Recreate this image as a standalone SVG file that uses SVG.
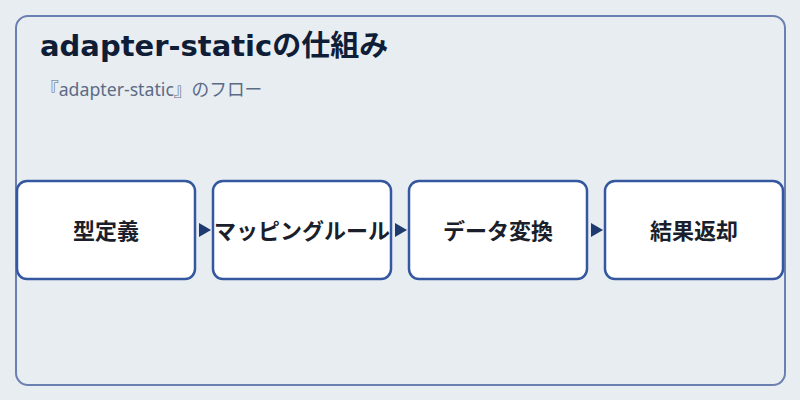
<svg xmlns="http://www.w3.org/2000/svg" width="800" height="400" viewBox="0 0 800 400">
<defs>
<style>
.frame{fill:#e8edf2;stroke:#6b80b0;stroke-width:2}
.node rect{fill:#ffffff;stroke:#3557a0;stroke-width:2.5}
.node text{font-family:"DejaVu Sans","Noto Sans CJK JP",sans-serif;font-size:22px;font-weight:bold;fill:#1a1f2b;text-anchor:middle;dominant-baseline:central}
.title{font-family:"DejaVu Sans","Noto Sans CJK JP",sans-serif;font-size:29px;font-weight:bold;fill:#0f1e36}
.sub{font-family:"Noto Sans","Noto Sans CJK JP",sans-serif;font-size:17.7px;fill:#5b6b85}
.edge{stroke:#1e3a6e;stroke-width:0.1;fill:none}
</style>
<marker id="tri" viewBox="0 0 12 14" refX="12" refY="7" markerWidth="12" markerHeight="14" markerUnits="userSpaceOnUse" orient="auto">
<path d="M0,0 L12,7 L0,14 z" fill="#1e3a6e"/>
</marker>
</defs>
<rect width="800" height="400" fill="#e8edf2"/>
<rect class="frame" x="16" y="16" width="769" height="369" rx="12"/>
<text class="title" x="40" y="56">adapter-staticの仕組み</text>
<text class="sub" x="41" y="96">『adapter-static』のフロー</text>
<g id="connectors">
<line class="edge" x1="198" y1="230" x2="211" y2="230" marker-end="url(#tri)"/>
<line class="edge" x1="394" y1="230" x2="407" y2="230" marker-end="url(#tri)"/>
<line class="edge" x1="590" y1="230" x2="603" y2="230" marker-end="url(#tri)"/>
</g>
<g id="node1" class="node"><rect x="17" y="181" width="178" height="98" rx="10"/><text x="106" y="231">型定義</text></g>
<g id="node2" class="node"><rect x="213" y="181" width="178" height="98" rx="10"/><text x="302" y="231">マッピングルール</text></g>
<g id="node3" class="node"><rect x="409" y="181" width="178" height="98" rx="10"/><text x="498" y="231">データ変換</text></g>
<g id="node4" class="node"><rect x="605" y="181" width="178" height="98" rx="10"/><text x="694" y="231">結果返却</text></g>
</svg>
